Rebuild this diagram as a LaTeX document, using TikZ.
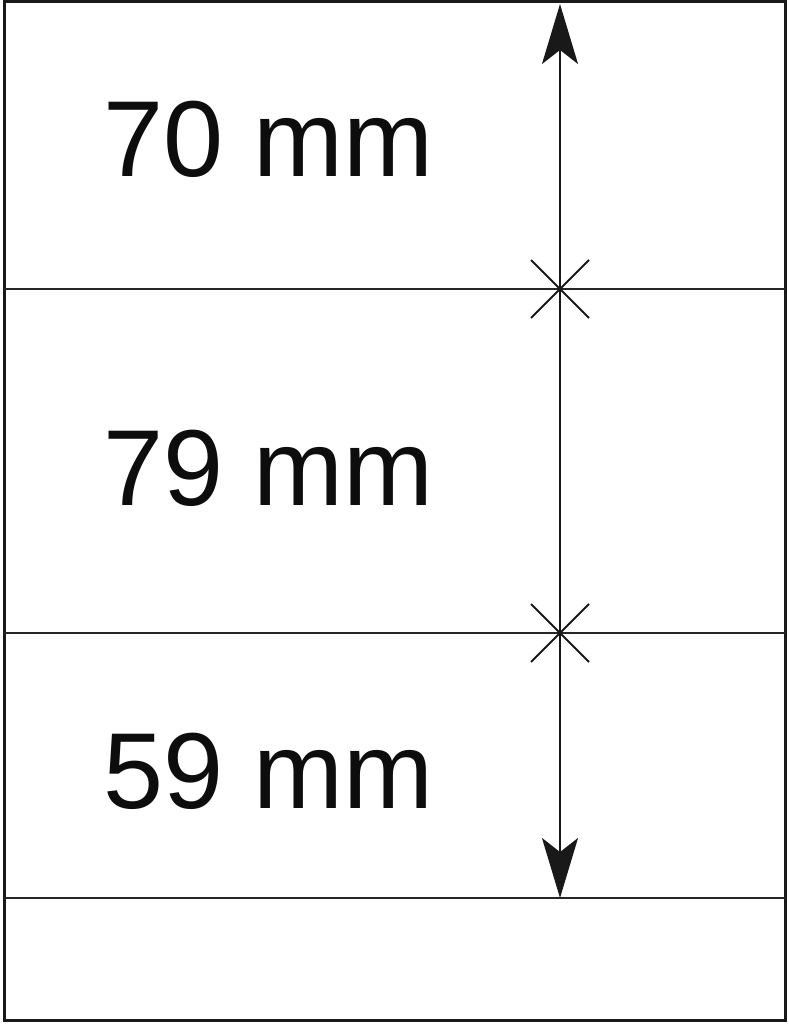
\documentclass[tikz,border=0pt]{standalone}
\usepackage{fontspec}
\setmainfont{Liberation Sans}
\usetikzlibrary{arrows.meta,calc}
\begin{document}
\begin{tikzpicture}[x=1pt,y=-1pt,
  frame/.style={line width=3pt,black!90},
  divider/.style={line width=2pt,black!85},
  dim/.style={line width=1.8pt,black!90},
  crossmark/.style={line width=1.8pt,black!90},
  lbl/.style={anchor=base west,inner sep=0pt,font=\fontsize{108}{108}\selectfont,text=black!95}]
\useasboundingbox (0,0) rectangle (788,1024);
\fill[white] (0,0) rectangle (788,1024);
\coordinate (tl) at (4,2);
\coordinate (br) at (785,1020);
\draw[frame] (tl) rectangle (br);
\coordinate (l1) at (4,289); \coordinate (r1) at (785,289);
\coordinate (l2) at (4,633); \coordinate (r2) at (785,633);
\coordinate (l3) at (4,898); \coordinate (r3) at (785,898);
\draw[divider] (l1) -- (r1);
\draw[divider] (l2) -- (r2);
\draw[divider] (l3) -- (r3);
\coordinate (atop) at (560,4);
\coordinate (abot) at (560,898);
\draw[dim,{Stealth[length=60pt,width=36pt,inset=14pt]}-{Stealth[length=60pt,width=36pt,inset=14pt]}] (atop) -- (abot);
\coordinate (c1) at (560,289);
\coordinate (c2) at (560,633);
\foreach \c in {c1,c2}{
  \draw[crossmark] ($(\c)+(-29,-29)$) -- ($(\c)+(29,29)$);
  \draw[crossmark] ($(\c)+(-29,29)$) -- ($(\c)+(29,-29)$);
}
\node[lbl] (t1) at (103,177) {70 mm};
\node[lbl] (t2) at (103,505) {79 mm};
\node[lbl] (t3) at (103,808) {59 mm};
\end{tikzpicture}
\end{document}
